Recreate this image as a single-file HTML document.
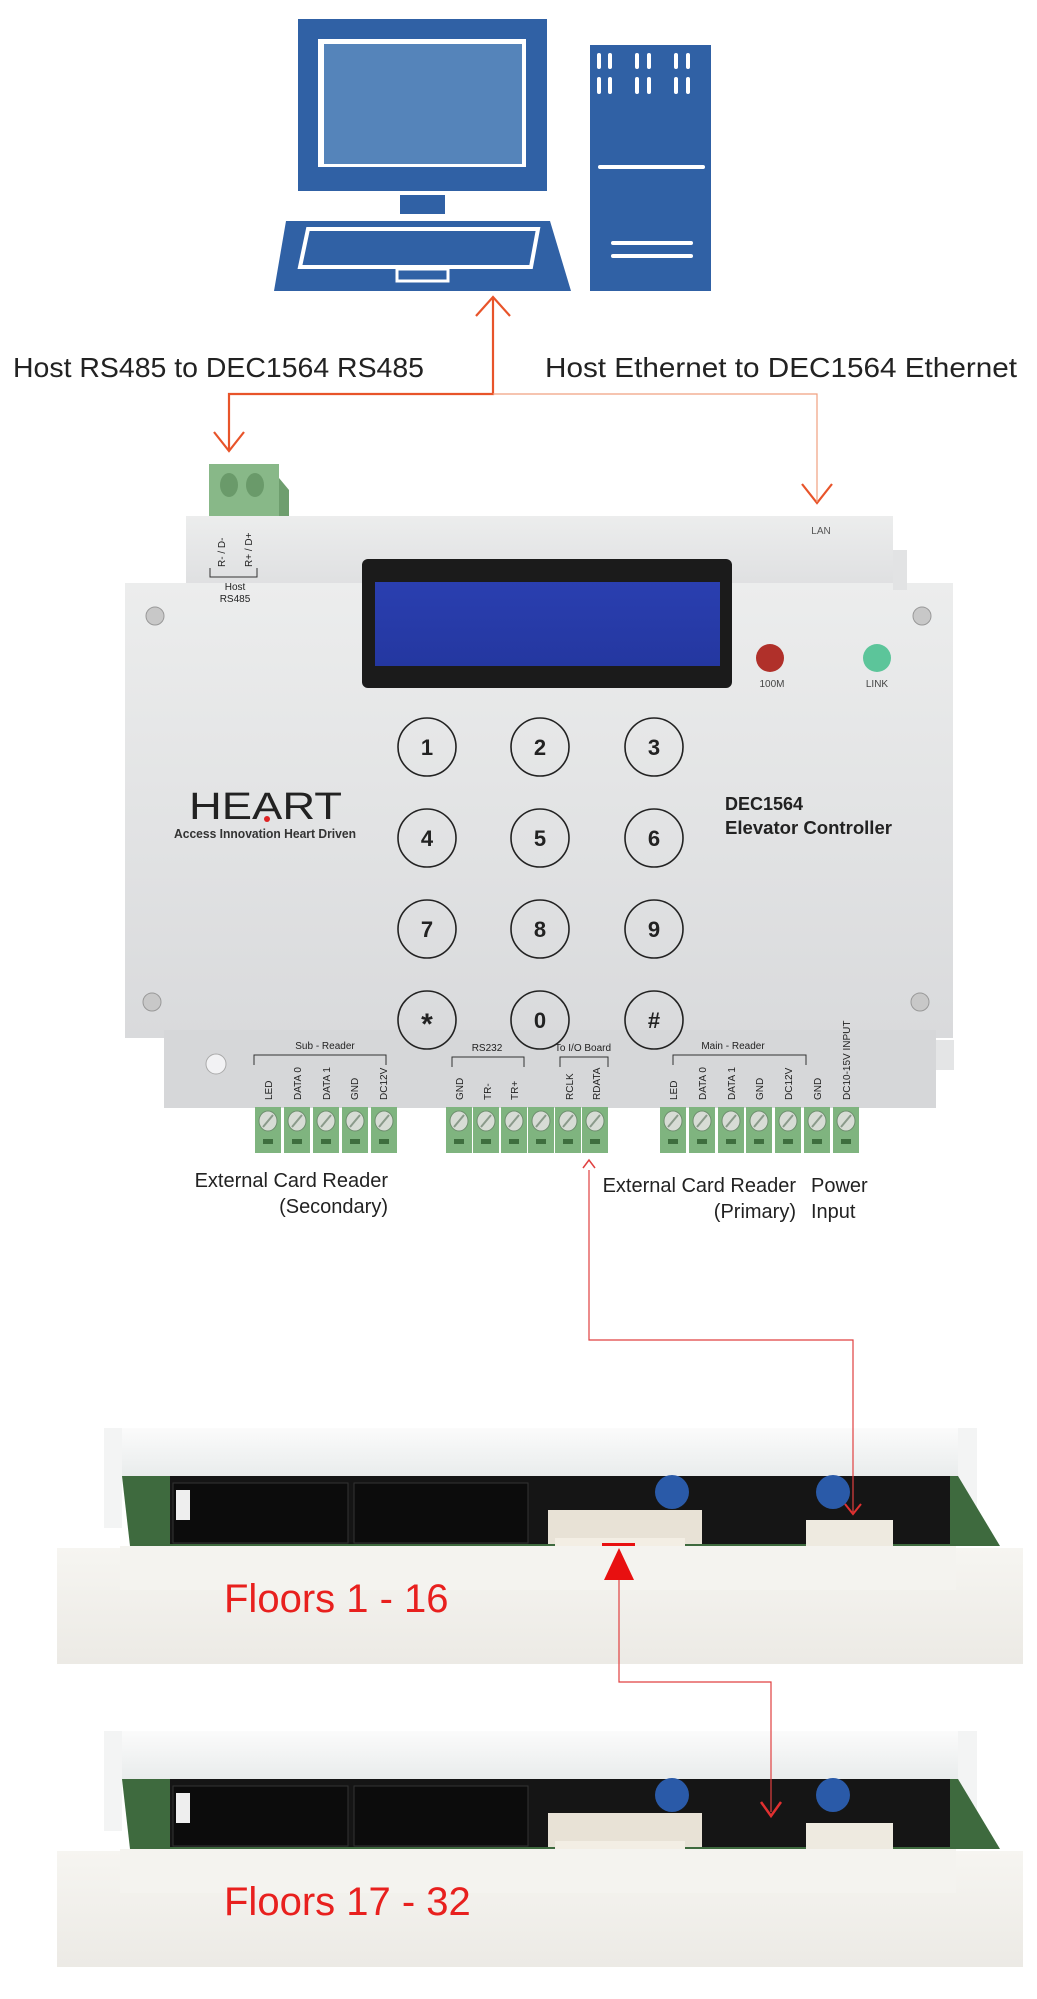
<!DOCTYPE html>
<html><head><meta charset="utf-8"><style>
html,body{margin:0;padding:0;background:#fff;}
svg{display:block;}
text{font-family:"Liberation Sans",sans-serif;}
</style></head><body>
<svg width="1037" height="1999" viewBox="0 0 1037 1999" xmlns="http://www.w3.org/2000/svg">
<defs>
<linearGradient id="face" x1="0" y1="0" x2="0" y2="1"><stop offset="0" stop-color="#eceded"/><stop offset="1" stop-color="#d9dadc"/></linearGradient>
<linearGradient id="lcd" x1="0" y1="0" x2="0" y2="1"><stop offset="0" stop-color="#2a3fb0"/><stop offset="1" stop-color="#2437a0"/></linearGradient>
<linearGradient id="band" x1="0" y1="0" x2="0" y2="1"><stop offset="0" stop-color="#fbfbfb"/><stop offset="1" stop-color="#e9ecec"/></linearGradient>
<linearGradient id="base" x1="0" y1="0" x2="0" y2="1"><stop offset="0" stop-color="#f6f5f1"/><stop offset="1" stop-color="#eceae5"/></linearGradient>
<g id="term"><rect x="-13" y="0" width="26" height="46" fill="#7fb47f"/><ellipse cx="0" cy="14" rx="9" ry="10" fill="#d7dcd5" stroke="#6f8f6f"/><line x1="-5" y1="20" x2="5" y2="8" stroke="#8a9a8a" stroke-width="2"/><rect x="-5" y="32" width="10" height="5" fill="#3e6e3e"/></g>
<g id="board">
  <rect x="104" y="0" width="873" height="48" fill="url(#band)"/>
  <rect x="104" y="0" width="18" height="100" fill="#f3f4f4"/>
  <rect x="958" y="0" width="19" height="100" fill="#f3f4f4"/>
  <polygon points="122,48 958,48 1000,118 130,118" fill="#3e6a3e"/>
  <rect x="170" y="48" width="780" height="68" fill="#151515"/>
  <rect x="173" y="55" width="175" height="60" fill="#0c0c0c" stroke="#333"/>
  <rect x="354" y="55" width="174" height="60" fill="#0c0c0c" stroke="#333"/>
  <rect x="176" y="62" width="14" height="30" fill="#eee"/>
  <rect x="548" y="82" width="154" height="34" fill="#e8e2d6"/>
  <rect x="555" y="110" width="130" height="10" fill="#f3eee4"/>
  <circle cx="672" cy="64" r="17" fill="#2a5aa8"/>
  <circle cx="833" cy="64" r="17" fill="#2a5aa8"/>
  <rect x="806" y="92" width="87" height="42" fill="#eeeae0"/>
  <rect x="57" y="120" width="966" height="116" fill="url(#base)"/>
  <rect x="120" y="118" width="836" height="44" fill="#f4f3ef"/>
</g>
</defs>

<!-- computer -->
<rect x="298" y="19" width="249" height="172" fill="#3061a5"/>
<rect x="318" y="39" width="208" height="128" fill="#fff"/>
<rect x="324" y="44" width="198" height="120" fill="#5584ba"/>
<rect x="400" y="195" width="45" height="19" fill="#3061a5"/>
<polygon points="286,221 550,221 571,291 274,291" fill="#3061a5"/>
<polygon points="308,229 538,229 531,267 300,267" fill="none" stroke="#fff" stroke-width="4"/>
<rect x="397" y="269" width="51" height="12" fill="none" stroke="#fff" stroke-width="3"/>
<rect x="590" y="45" width="121" height="246" fill="#3061a5"/>
<g stroke="#fff" stroke-width="4" stroke-linecap="round">
<line x1="599" y1="55" x2="599" y2="67"/><line x1="610" y1="55" x2="610" y2="67"/>
<line x1="637" y1="55" x2="637" y2="67"/><line x1="649" y1="55" x2="649" y2="67"/>
<line x1="676" y1="55" x2="676" y2="67"/><line x1="688" y1="55" x2="688" y2="67"/>
<line x1="599" y1="79" x2="599" y2="92"/><line x1="610" y1="79" x2="610" y2="92"/>
<line x1="637" y1="79" x2="637" y2="92"/><line x1="649" y1="79" x2="649" y2="92"/>
<line x1="676" y1="79" x2="676" y2="92"/><line x1="688" y1="79" x2="688" y2="92"/>
<line x1="600" y1="167" x2="703" y2="167"/>
<line x1="613" y1="243" x2="691" y2="243"/><line x1="613" y1="256" x2="691" y2="256"/>
</g>

<!-- connectors top -->
<g fill="none" stroke="#e8542a" stroke-width="2.2">
<polyline points="476,316 493,297 510,316"/>
<polyline points="493,297 493,394 229,394 229,450"/>
<polyline points="214,432 229,451 244,432"/>
<polyline points="802,484 817,503 832,484"/>
</g>
<polyline points="493,394 817,394 817,502" fill="none" stroke="#f0a080" stroke-width="1.2"/>
<text x="13" y="377" font-size="28" fill="#222" textLength="411" lengthAdjust="spacingAndGlyphs">Host RS485 to DEC1564 RS485</text>
<text x="545" y="377" font-size="28" fill="#222" textLength="472" lengthAdjust="spacingAndGlyphs">Host Ethernet to DEC1564 Ethernet</text>

<!-- controller -->
<rect x="209" y="464" width="70" height="52" fill="#88b888"/>
<polygon points="279,478 289,490 289,516 279,516" fill="#6e9e6e"/>
<ellipse cx="229" cy="485" rx="9" ry="12" fill="#6a9a6a"/><ellipse cx="255" cy="485" rx="9" ry="12" fill="#6a9a6a"/>
<rect x="186" y="516" width="707" height="100" fill="url(#face)"/>
<rect x="125" y="583" width="828" height="455" fill="url(#face)"/>
<rect x="893" y="550" width="14" height="40" fill="#e2e3e4"/>
<rect x="164" y="1030" width="772" height="78" fill="#d6d7d9"/>
<rect x="936" y="1040" width="18" height="30" fill="#e4e5e6"/>
<text x="821" y="534" font-size="10" fill="#555" text-anchor="middle">LAN</text>
<text transform="translate(225,567) rotate(-90)" font-size="10" fill="#222">R- / D-</text>
<text transform="translate(252,567) rotate(-90)" font-size="10" fill="#222">R+ / D+</text>
<polyline points="210,568 210,577 257,577 257,568" fill="none" stroke="#333"/>
<text x="235" y="590" font-size="10" fill="#222" text-anchor="middle">Host</text>
<text x="235" y="602" font-size="10" fill="#222" text-anchor="middle">RS485</text>
<rect x="362" y="559" width="370" height="129" rx="6" fill="#1b1b1b"/>
<rect x="375" y="582" width="345" height="84" fill="url(#lcd)"/>
<circle cx="770" cy="658" r="14" fill="#b0302a"/><circle cx="877" cy="658" r="14" fill="#5cc59a"/>
<text x="772" y="687" font-size="10" fill="#444" text-anchor="middle">100M</text>
<text x="877" y="687" font-size="10" fill="#444" text-anchor="middle">LINK</text>
<g fill="#c8c8c8" stroke="#999"><circle cx="155" cy="616" r="9"/><circle cx="922" cy="616" r="9"/><circle cx="152" cy="1002" r="9"/><circle cx="920" cy="1002" r="9"/></g>
<g fill="none" stroke="#222" stroke-width="1.6">
<circle cx="427" cy="747" r="29"/><circle cx="540" cy="747" r="29"/><circle cx="654" cy="747" r="29"/>
<circle cx="427" cy="838" r="29"/><circle cx="540" cy="838" r="29"/><circle cx="654" cy="838" r="29"/>
<circle cx="427" cy="929" r="29"/><circle cx="540" cy="929" r="29"/><circle cx="654" cy="929" r="29"/>
<circle cx="427" cy="1020" r="29"/><circle cx="540" cy="1020" r="29"/><circle cx="654" cy="1020" r="29"/>
</g>
<g font-size="22" font-weight="bold" fill="#222" text-anchor="middle">
<text x="427" y="755">1</text><text x="540" y="755">2</text><text x="654" y="755">3</text>
<text x="427" y="846">4</text><text x="540" y="846">5</text><text x="654" y="846">6</text>
<text x="427" y="937">7</text><text x="540" y="937">8</text><text x="654" y="937">9</text>
<text x="427" y="1034" font-size="30">*</text><text x="540" y="1028">0</text><text x="654" y="1028">#</text>
</g>
<text x="189" y="819" font-size="38" fill="#222" textLength="153" lengthAdjust="spacingAndGlyphs">HEART</text>
<circle cx="267" cy="819" r="3" fill="#d22"/>
<text x="174" y="838" font-size="13" font-weight="bold" fill="#333" textLength="182" lengthAdjust="spacingAndGlyphs">Access Innovation Heart Driven</text>
<text x="725" y="810" font-size="18" font-weight="bold" fill="#222">DEC1564</text>
<text x="725" y="834" font-size="18" font-weight="bold" fill="#222" textLength="167" lengthAdjust="spacingAndGlyphs">Elevator Controller</text>
<circle cx="216" cy="1064" r="10" fill="#f2f2f4" stroke="#aaa"/>
<g font-size="10" fill="#222">
<text x="325" y="1049" text-anchor="middle">Sub - Reader</text>
<text x="487" y="1051" text-anchor="middle">RS232</text>
<text x="583" y="1051" text-anchor="middle">To I/O Board</text>
<text x="733" y="1049" text-anchor="middle">Main - Reader</text>
<text transform="translate(272,1100) rotate(-90)">LED</text>
<text transform="translate(301,1100) rotate(-90)">DATA 0</text>
<text transform="translate(330,1100) rotate(-90)">DATA 1</text>
<text transform="translate(358,1100) rotate(-90)">GND</text>
<text transform="translate(387,1100) rotate(-90)">DC12V</text>
<text transform="translate(463,1100) rotate(-90)">GND</text>
<text transform="translate(491,1100) rotate(-90)">TR-</text>
<text transform="translate(518,1100) rotate(-90)">TR+</text>
<text transform="translate(573,1100) rotate(-90)">RCLK</text>
<text transform="translate(600,1100) rotate(-90)">RDATA</text>
<text transform="translate(677,1100) rotate(-90)">LED</text>
<text transform="translate(706,1100) rotate(-90)">DATA 0</text>
<text transform="translate(735,1100) rotate(-90)">DATA 1</text>
<text transform="translate(763,1100) rotate(-90)">GND</text>
<text transform="translate(792,1100) rotate(-90)">DC12V</text>
<text transform="translate(821,1100) rotate(-90)">GND</text>
<text transform="translate(850,1100) rotate(-90)">DC10-15V INPUT</text>
</g>
<g fill="none" stroke="#333">
<polyline points="254,1065 254,1055 386,1055 386,1065"/>
<polyline points="452,1067 452,1057 524,1057 524,1067"/>
<polyline points="560,1067 560,1057 608,1057 608,1067"/>
<polyline points="673,1065 673,1055 806,1055 806,1065"/>
</g>
<g>
<use href="#term" x="268" y="1107"/><use href="#term" x="297" y="1107"/><use href="#term" x="326" y="1107"/><use href="#term" x="355" y="1107"/><use href="#term" x="384" y="1107"/>
<use href="#term" x="459" y="1107"/><use href="#term" x="486" y="1107"/><use href="#term" x="514" y="1107"/><use href="#term" x="541" y="1107"/><use href="#term" x="568" y="1107"/><use href="#term" x="595" y="1107"/>
<use href="#term" x="673" y="1107"/><use href="#term" x="702" y="1107"/><use href="#term" x="731" y="1107"/><use href="#term" x="759" y="1107"/><use href="#term" x="788" y="1107"/><use href="#term" x="817" y="1107"/><use href="#term" x="846" y="1107"/>
</g>
<g font-size="20" fill="#222">
<text x="388" y="1187" text-anchor="end">External Card Reader</text>
<text x="388" y="1213" text-anchor="end">(Secondary)</text>
<text x="796" y="1192" text-anchor="end">External Card Reader</text>
<text x="796" y="1218" text-anchor="end">(Primary)</text>
<text x="811" y="1192">Power</text>
<text x="811" y="1218">Input</text>
</g>

<!-- I/O boards -->
<use href="#board" x="0" y="1428"/>
<use href="#board" x="0" y="1731"/>
<text x="224" y="1612" font-size="40" fill="#e8201e">Floors  1 - 16</text>
<text x="224" y="1915" font-size="40" fill="#e8201e">Floors  17 - 32</text>

<!-- connectors bottom -->
<g fill="none" stroke="#e04040" stroke-width="1.2">
<polyline points="589,1170 589,1340 853,1340 853,1512"/>
<polyline points="619,1580 619,1682 771,1682 771,1812"/>
</g>
<polyline points="583,1168 589,1160 595,1168" fill="none" stroke="#e04040" stroke-width="1.5"/>
<polyline points="845,1504 853,1514 861,1504" fill="none" stroke="#e03030" stroke-width="2"/>
<polyline points="761,1802 771,1816 781,1802" fill="none" stroke="#e03030" stroke-width="2.5"/>
<polygon points="619,1548 604,1580 634,1580" fill="#e81010"/>
<rect x="602" y="1543" width="33" height="3" fill="#e81010"/>
</svg>
</body></html>
